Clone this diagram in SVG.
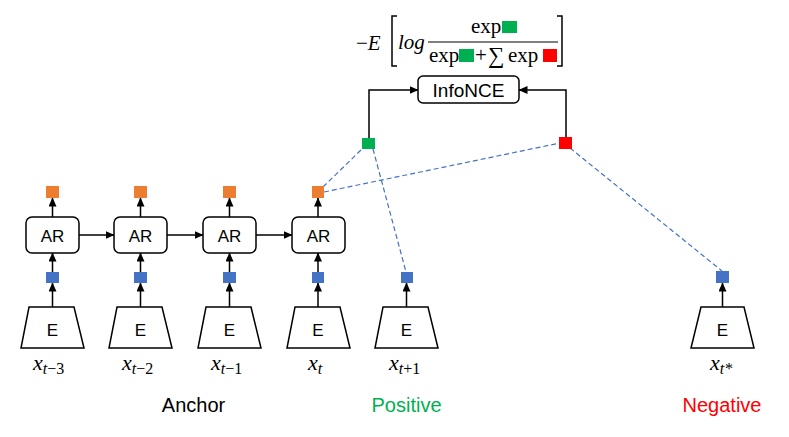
<svg xmlns="http://www.w3.org/2000/svg" width="789" height="437" viewBox="0 0 789 437">
<style>
.box{fill:#fff;stroke:#000;stroke-width:1.5}
.lbl{font-family:"Liberation Sans",Arial,sans-serif;font-size:17px;text-anchor:middle;fill:#000}
.big{font-size:20px}
.nce{font-size:19px}
.ln{stroke:#000;stroke-width:1.5;fill:none}
.dash{stroke:#4472c4;stroke-width:1.2;fill:none;stroke-dasharray:5 3}
.m{font-family:"Liberation Serif","Times New Roman",serif;fill:#000}
.blue{fill:#4472c4}.orange{fill:#ed7d31}.green{fill:#00b050}.red{fill:#ff0000}
</style>
<defs>
<marker id="ah" markerWidth="9" markerHeight="8" refX="8.5" refY="4" orient="auto" markerUnits="userSpaceOnUse">
<path d="M0,0 L9,4 L0,8 Z" fill="#000"/>
</marker>
</defs>
<rect width="789" height="437" fill="#fff"/>

<g id="connectors">
<path class="ln" d="M52.5,307 V283" marker-end="url(#ah)"/>
<path class="ln" d="M52.5,272 V253" marker-end="url(#ah)"/>
<path class="ln" d="M52.5,217 V198" marker-end="url(#ah)"/>
<path class="ln" d="M140.5,307 V283" marker-end="url(#ah)"/>
<path class="ln" d="M140.5,272 V253" marker-end="url(#ah)"/>
<path class="ln" d="M140.5,217 V198" marker-end="url(#ah)"/>
<path class="ln" d="M229.5,307 V283" marker-end="url(#ah)"/>
<path class="ln" d="M229.5,272 V253" marker-end="url(#ah)"/>
<path class="ln" d="M229.5,217 V198" marker-end="url(#ah)"/>
<path class="ln" d="M318,307 V283" marker-end="url(#ah)"/>
<path class="ln" d="M318,272 V253" marker-end="url(#ah)"/>
<path class="ln" d="M318,217 V198" marker-end="url(#ah)"/>
<path class="ln" d="M406.5,307 V283" marker-end="url(#ah)"/>
<path class="ln" d="M722.5,307 V283" marker-end="url(#ah)"/>
<path class="ln" d="M79,235 H114" marker-end="url(#ah)"/>
<path class="ln" d="M167,235 H203" marker-end="url(#ah)"/>
<path class="ln" d="M256,235 H292" marker-end="url(#ah)"/>
<path class="ln" d="M369,138 V90 H418" marker-end="url(#ah)"/>
<path class="ln" d="M566,137 V90 H519" marker-end="url(#ah)"/>
<path class="dash" d="M323,187 L363,148"/>
<path class="dash" d="M324,192 L560,143"/>
<path class="dash" d="M373,149 L406,272"/>
<path class="dash" d="M570,148 L722,271"/>
</g>

<g id="formula">
<text class="m" x="356" y="50" font-size="21">−<tspan font-style="italic">E</tspan></text>
<path d="M397,16 H392 V66 H397" class="ln" stroke-width="1.3"/>
<path d="M557,16 H562 V66 H557" class="ln" stroke-width="1.3"/>
<text class="m" x="398" y="49" font-size="21" font-style="italic">log</text>
<line x1="428" y1="42" x2="558" y2="42" stroke="#000" stroke-width="1.2"/>
<text class="m" x="471" y="33" font-size="21">exp</text>
<rect class="green" x="502" y="21" width="15" height="12"/>
<text class="m" x="429" y="62" font-size="21">exp</text>
<rect class="green" x="459" y="49" width="15" height="13"/>
<text class="m" x="475" y="62" font-size="21">+</text>
<text class="m" x="488" y="63" font-size="23">∑</text>
<text class="m" x="508" y="62" font-size="21">exp</text>
<rect class="red" x="543" y="49" width="14" height="13"/>
</g>

<g id="infonce">
<rect class="box" x="418" y="76" width="101" height="27" rx="5"/>
<text class="lbl nce" x="468.5" y="96.5">InfoNCE</text>
</g>

<g id="col1">
<rect class="orange" x="46" y="186" width="13" height="12"/>
<rect class="box" x="26" y="217" width="53" height="36" rx="6"/>
<text class="lbl" x="52.5" y="241.5">AR</text>
<rect class="blue" x="46" y="272" width="13" height="11"/>
<path class="box" d="M29,307 H74 L84,348 H21 Z"/>
<text class="lbl" x="52.5" y="336">E</text>
<text class="m" x="33" y="370" font-size="22" font-style="italic">x<tspan font-size="16" dy="4">t</tspan><tspan font-size="16" font-style="normal">−3</tspan></text>
</g>

<g id="col2">
<rect class="orange" x="134" y="186" width="13" height="12"/>
<rect class="box" x="114" y="217" width="53" height="36" rx="6"/>
<text class="lbl" x="140.5" y="241.5">AR</text>
<rect class="blue" x="134" y="272" width="13" height="11"/>
<path class="box" d="M117,307 H162 L172,348 H109 Z"/>
<text class="lbl" x="140.5" y="336">E</text>
<text class="m" x="122" y="370" font-size="22" font-style="italic">x<tspan font-size="16" dy="4">t</tspan><tspan font-size="16" font-style="normal">−2</tspan></text>
</g>

<g id="col3">
<rect class="orange" x="223" y="186" width="13" height="12"/>
<rect class="box" x="203" y="217" width="53" height="36" rx="6"/>
<text class="lbl" x="229.5" y="241.5">AR</text>
<rect class="blue" x="223" y="272" width="13" height="11"/>
<path class="box" d="M206,307 H251 L261,348 H198 Z"/>
<text class="lbl" x="229.5" y="336">E</text>
<text class="m" x="211" y="370" font-size="22" font-style="italic">x<tspan font-size="16" dy="4">t</tspan><tspan font-size="16" font-style="normal">−1</tspan></text>
</g>

<g id="col4">
<rect class="orange" x="312" y="186" width="12" height="12"/>
<rect class="box" x="292" y="217" width="53" height="36" rx="6"/>
<text class="lbl" x="318.5" y="241.5">AR</text>
<rect class="blue" x="312" y="272" width="12" height="11"/>
<path class="box" d="M295,307 H340 L350,348 H287 Z"/>
<text class="lbl" x="318" y="336">E</text>
<text class="m" x="308" y="370" font-size="22" font-style="italic">x<tspan font-size="16" dy="4">t</tspan></text>
</g>

<g id="col5">
<rect class="blue" x="401" y="272" width="12" height="11"/>
<path class="box" d="M383,307 H428 L438,348 H375 Z"/>
<text class="lbl" x="406.5" y="336">E</text>
<text class="m" x="389" y="370" font-size="22" font-style="italic">x<tspan font-size="16" dy="4">t</tspan><tspan font-size="16" font-style="normal">+1</tspan></text>
</g>

<g id="col7">
<rect class="blue" x="716" y="271" width="13" height="12"/>
<path class="box" d="M701,307 H744 L754,348 H691 Z"/>
<text class="lbl" x="722.5" y="336">E</text>
<text class="m" x="710" y="370" font-size="22" font-style="italic">x<tspan font-size="16" dy="4">t*</tspan></text>
</g>

<g id="green-node"><rect class="green" x="362" y="138" width="13" height="11"/></g>
<g id="red-node"><rect class="red" x="559" y="137" width="13" height="12"/></g>

<g id="labels">
<text class="lbl big" x="193.5" y="412">Anchor</text>
<text class="lbl big" x="406.5" y="412" style="fill:#00b050">Positive</text>
<text class="lbl big" x="722" y="412" style="fill:#ff0000">Negative</text>
</g>
</svg>
